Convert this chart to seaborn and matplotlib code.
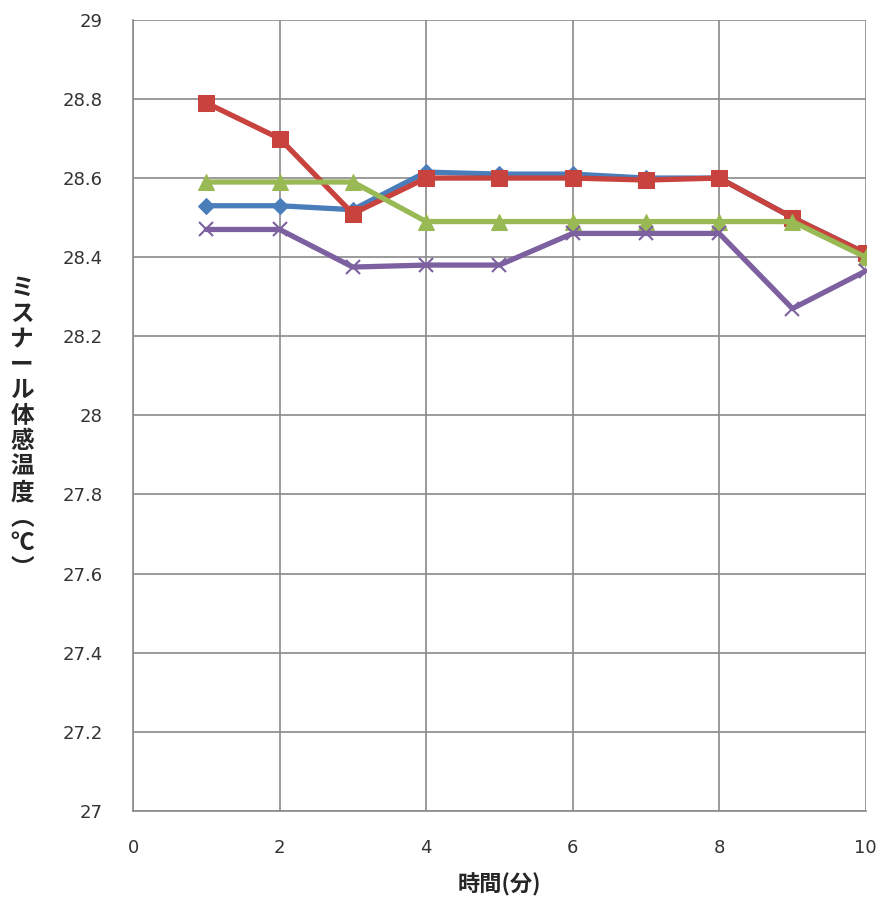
import matplotlib
matplotlib.use("Agg")
import matplotlib.pyplot as plt
import seaborn as sns
import pandas as pd

minutes = [1, 2, 3, 4, 5, 6, 7, 8, 9, 10]
series_a = [28.53, 28.53, 28.52, 28.615, 28.61, 28.61, 28.60, 28.60, 28.50, 28.41]
series_b = [28.79, 28.70, 28.51, 28.60, 28.60, 28.60, 28.595, 28.60, 28.50, 28.41]
series_c = [28.59, 28.59, 28.59, 28.49, 28.49, 28.49, 28.49, 28.49, 28.49, 28.40]
series_d = [28.47, 28.47, 28.375, 28.38, 28.38, 28.46, 28.46, 28.46, 28.27, 28.365]
series_names = ["A", "B", "C", "D"]
colors = ["#4A7EBB", "#C8423E", "#98B954", "#7D60A0"]
markers = ["D", "s", "^", "x"]
y_ticks = [27, 27.2, 27.4, 27.6, 27.8, 28, 28.2, 28.4, 28.6, 28.8, 29]
y_tick_labels = ["27", "27.2", "27.4", "27.6", "27.8", "28", "28.2", "28.4", "28.6", "28.8", "29"]
x_ticks = [0, 2, 4, 6, 8, 10]

sns.set_theme(style="white")
plt.rcParams['font.family'] = ['DejaVu Sans', 'Noto Sans CJK JP']

df = pd.DataFrame({
    "x": minutes * 4,
    "y": series_a + series_b + series_c + series_d,
    "s": sum([[n] * len(minutes) for n in series_names], []),
})

fig = plt.figure(figsize=(8.87, 9.02), dpi=100)
ax = fig.add_axes([0.15, 0.101, 0.826, 0.877])

for name, col, mk in zip(series_names, colors, markers):
    sub = df[df["s"] == name]
    kw = dict(markersize=11, markeredgecolor=col, markerfacecolor=col)
    if mk == "x":
        kw = dict(markersize=10, markeredgewidth=1.5, markeredgecolor=col)
    if mk == "D":
        kw["markersize"] = 8
    sns.lineplot(data=sub, x="x", y="y", ax=ax, color=col, linewidth=3.8,
                 marker=mk, legend=False, **kw)

ax.set_xlim(0, 10)
ax.set_ylim(27, 29)
ax.set_xticks(x_ticks)
ax.set_xticklabels([str(t) for t in x_ticks], fontsize=13, color="#333333")
ax.set_yticks(y_ticks)
ax.set_yticklabels(y_tick_labels, fontsize=13, color="#333333")
ax.grid(True, color="#8A8A8A", linewidth=1.2)
ax.set_axisbelow(True)
for side in ["top", "right"]:
    ax.spines[side].set_visible(False)
for side in ["left", "bottom"]:
    ax.spines[side].set_color("#8A8A8A")
    ax.spines[side].set_linewidth(1.2)
ax.tick_params(axis="both", length=0)
ax.tick_params(axis="y", pad=22)
ax.tick_params(axis="x", pad=20)

ax.set_xlabel("時間(分)", fontsize=16, fontweight="bold", labelpad=12,
              family=['Noto Sans CJK JP', 'DejaVu Sans'])
ax.set_ylabel("")
ylab = "\n".join(list("ミスナール体感温度") + ["︵", "℃", "︶"])
fig.text(0.025, 0.525, ylab, fontsize=17, fontweight="bold", ha="center", va="center",
         linespacing=1.08, family=['Noto Sans CJK JP', 'DejaVu Sans'])

fig.savefig("out.png", dpi=100, facecolor="white")
